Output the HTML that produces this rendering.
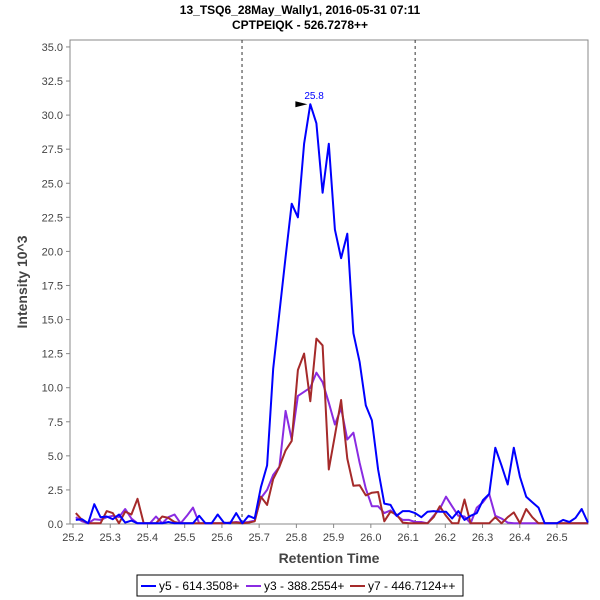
<!DOCTYPE html>
<html><head><meta charset="utf-8"><style>
body{margin:0;background:#fff;}
svg{display:block;font-family:"Liberation Sans",sans-serif;}
</style></head><body>
<svg id="c" width="600" height="600">
<text x="300" y="14" text-anchor="middle" font-size="12" font-weight="bold">13_TSQ6_28May_Wally1, 2016-05-31 07:11</text>
<text x="300" y="29" text-anchor="middle" font-size="12" font-weight="bold">CPTPEIQK - 526.7278++</text>
<rect x="70" y="40" width="518" height="484" fill="#fff" stroke="#888"/>
<g id="yt"></g>
<g id="xt"></g>
<text transform="translate(27,282) rotate(-90)" text-anchor="middle" font-size="14" font-weight="bold" fill="#444">Intensity 10^3</text>
<text x="329" y="563" text-anchor="middle" font-size="14" font-weight="bold" fill="#444">Retention Time</text>
<g id="series"></g>
<g>
<rect x="137" y="575" width="326" height="21" fill="#fff" stroke="#000"/>
<line x1="141" y1="586" x2="156" y2="586" stroke="#0000ff" stroke-width="2"/>
<text x="159" y="590" font-size="12">y5 - 614.3508+</text>
<line x1="246" y1="586" x2="261" y2="586" stroke="#8a2be2" stroke-width="2"/>
<text x="264" y="590" font-size="12">y3 - 388.2554+</text>
<line x1="350" y1="586" x2="365" y2="586" stroke="#a52a2a" stroke-width="2"/>
<text x="368" y="590" font-size="12">y7 - 446.7124++</text>
</g>
</svg>
<script>
const t0 = 25.655, dt = 0.01657, jStart = -27;
const yTicks = [0,2.5,5,7.5,10,12.5,15,17.5,20,22.5,25,27.5,30,32.5,35];
const xTicks = [25.2,25.3,25.4,25.5,25.6,25.7,25.8,25.9,26.0,26.1,26.2,26.3,26.4,26.5];
const boundaries = [25.654, 26.119];
const peakTime = 25.8, peakValue = 30.8;
const y5 = [0.3,0.35,0.05,1.45,0.5,0.55,0.35,0.7,0.1,0.25,0.05,0.05,0.05,0.05,0.05,0.15,0.05,0.05,0.05,0.05,0.6,0.05,0.05,0.7,0.1,0.05,0.8,
0.05,0.6,0.4,2.7,4.3,11.4,15.5,19.6,23.5,22.5,27.9,30.8,29.4,24.3,27.9,21.6,19.5,21.3,14.0,11.9,8.7,7.6,4.0,1.5,1.4,
0.6,0.95,0.95,0.8,0.5,0.9,0.95,0.9,0.9,0.4,0.95,0.3,0.6,0.8,1.75,2.2,5.6,4.3,2.9,5.6,3.45,2.0,1.6,1.2,0.05,0.05,0.05,0.3,0.15,0.45,1.1,0.1];
const y3 = [0.5,0.2,0.05,0.35,0.3,0.5,0.6,0.5,1.1,0.4,0.05,0.05,0.05,0.55,0.05,0.5,0.7,0.05,0.6,1.2,0.05,0.05,0.05,0.05,0.05,0.1,0.15,
0.1,0.15,0.25,1.9,2.5,3.6,4.2,8.3,6.2,9.4,9.7,10.0,11.1,10.4,8.9,7.3,8.5,6.2,6.7,4.5,2.6,1.3,1.3,0.8,1.0,
0.6,0.3,0.3,0.15,0.15,0.05,0.6,1.1,2.0,1.3,0.6,0.55,0.05,1.2,1.6,2.2,0.6,0.4,0.1,0.05,0.05,0.05,0.05,0.05,0.05,0.05,0.05,0.05,0.05,0.05,0.05,0.05];
const y7 = [0.8,0.3,0.05,0.05,0.05,0.95,0.8,0.05,0.9,0.7,1.85,0.05,0.05,0.05,0.55,0.45,0.15,0.05,0.05,0.05,0.05,0.05,0.05,0.05,0.05,0.1,0.1,
0.05,0.1,0.2,2.0,1.4,3.3,4.2,5.4,6.1,11.3,12.5,9.0,13.6,13.1,4.0,6.5,9.1,4.8,2.8,2.85,2.1,2.3,2.35,0.2,0.9,
0.7,0.1,0.05,0.05,0.05,0.05,0.5,1.3,0.6,0.05,0.05,1.8,0.05,0.05,0.05,0.05,0.5,0.05,0.5,0.85,0.05,1.1,0.5,0.05,0.05,0.05,0.05,0.05,0.05,0.05,0.05,0.05];
const NS = "http://www.w3.org/2000/svg";
const X = t => 73 + (t - 25.2) * 372.3;
const Y = v => 524 - v * 13.63;
function mk(tag, attrs, parent){const e=document.createElementNS(NS,tag);for(const k in attrs)e.setAttribute(k,attrs[k]);parent.appendChild(e);return e;}
const yt=document.getElementById('yt'), xt=document.getElementById('xt'), sg=document.getElementById('series');
yTicks.forEach(v=>{
  const l=mk('line',{x1:66,x2:70,y1:Y(v),y2:Y(v),stroke:'#888'},yt);
  
  
  const tx=mk('text',{x:63,y:Y(v)+4,'text-anchor':'end','font-size':11,fill:'#444'},yt);
  tx.textContent=v.toFixed(1);
  
  
});
xTicks.forEach(t=>{
  const l=mk('line',{x1:X(t),x2:X(t),y1:524,y2:528,stroke:'#888'},xt);
  
  
  const tx=mk('text',{x:X(t),y:541,'text-anchor':'middle','font-size':11,fill:'#444'},xt);
  tx.textContent=t.toFixed(1);
  
  
});
boundaries.forEach(t=>{
  const l=mk('line',{x1:X(t),x2:X(t),y1:40,y2:524,stroke:'#333','stroke-dasharray':'3,3'},sg);
  
  
});
function series(vals,color,name){
  const pts=vals.map((v,i)=>X(t0+(jStart+i)*dt).toFixed(1)+','+Y(v).toFixed(1)).join(' ');
  const p=mk('polyline',{points:pts,fill:'none',stroke:color,'stroke-width':2,'stroke-linejoin':'round'},sg);
  
  
}
series(y3,'#8a2be2','series-y3');
series(y7,'#a52a2a','series-y7');
series(y5,'#0000ff','series-y5');
const px=X(peakTime)+11, py=Y(peakValue);
const ar=mk('polygon',{points:`${px-12},${py-3} ${px},${py} ${px-12},${py+3}`,fill:'#000'},sg);


const pl=mk('text',{x:px-3,y:py-5,'font-size':10,fill:'#0000ff'},sg);
pl.textContent=peakTime.toFixed(1);


</script>
</body></html>
